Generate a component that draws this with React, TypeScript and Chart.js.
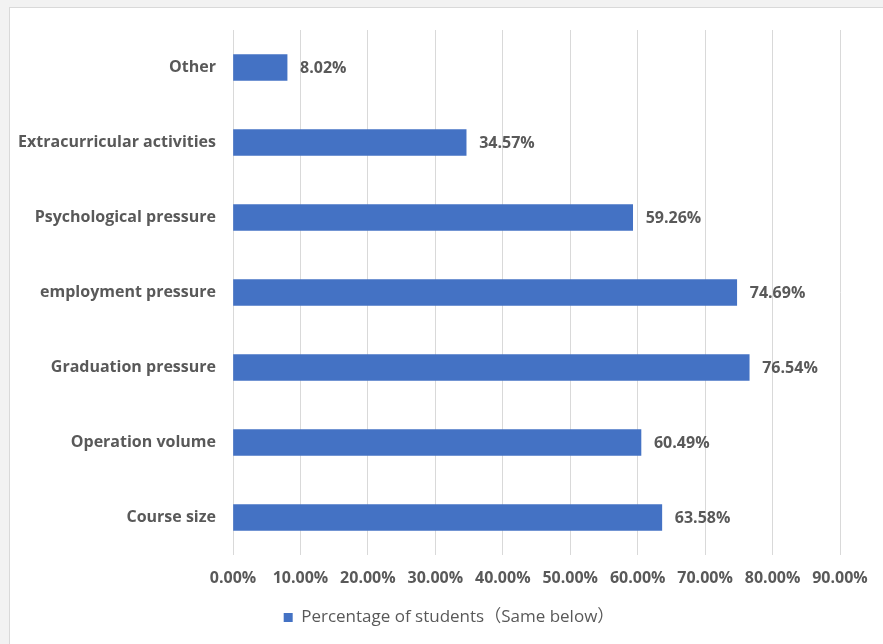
import React, { useEffect, useRef } from "react";
import { Chart, registerables } from "chart.js";

Chart.register(...registerables);

const categories = [
  "Other",
  "Extracurricular activities",
  "Psychological pressure",
  "employment pressure",
  "Graduation pressure",
  "Operation volume",
  "Course size",
];
const percentages = [8.02, 34.57, 59.26, 74.69, 76.54, 60.49, 63.58];
const seriesName = "Percentage of students（Same below）";
const axisMax = 90;
const axisStep = 10;

const FONT = "'Open Sans', 'Noto Sans CJK SC', sans-serif";
const GREY = "#595959";

const valueLabels = {
  id: "valueLabels",
  afterDatasetsDraw(chart: any) {
    const ctx = chart.ctx;
    const meta = chart.getDatasetMeta(0);
    ctx.save();
    ctx.font = `bold 16px ${FONT}`;
    ctx.fillStyle = GREY;
    ctx.textAlign = "left";
    ctx.textBaseline = "middle";
    meta.data.forEach((bar: any, i: number) => {
      const v = chart.data.datasets[0].data[i];
      ctx.fillText(v.toFixed(2) + "%", bar.x + 13, bar.y + 1);
    });
    ctx.restore();
  },
};

const shiftLegend = {
  id: "shiftLegend",
  afterLayout(chart: any) {
    if (chart.legend) {
      chart.legend.left += 58;
      if (chart.legend.adjustHitBoxes) chart.legend.adjustHitBoxes();
    }
  },
};

export default function App() {
  const ref = useRef<HTMLCanvasElement>(null);
  useEffect(() => {
    const chart = new Chart(ref.current!, {
      type: "bar",
      data: {
        labels: categories,
        datasets: [
          {
            label: seriesName,
            data: percentages,
            backgroundColor: "#4472c4",
            borderWidth: 0,
            barThickness: 26,
          },
        ],
      },
      options: {
        indexAxis: "y",
        animation: false,
        responsive: false,
        layout: { padding: { top: 30, right: 43, left: 0, bottom: 8 } },
        scales: {
          x: {
            min: 0,
            max: axisMax,
            ticks: {
              stepSize: axisStep,
              padding: 14,
              color: GREY,
              font: { family: FONT, size: 16, weight: "bold" },
              callback: (v: any) => Number(v).toFixed(2) + "%",
              maxRotation: 0,
              autoSkip: false,
            },
            grid: { color: "#d9d9d9", drawTicks: false, lineWidth: 1 },
            border: { display: false },
            afterFit: (s: any) => {
              s.height = 46;
            },
          },
          y: {
            ticks: {
              padding: 17,
              color: GREY,
              font: { family: FONT, size: 16, weight: "bold" },
            },
            grid: { display: false, drawTicks: false },
            border: { display: false },
            afterFit: (s: any) => {
              s.width = 233;
            },
          },
        },
        plugins: {
          legend: {
            position: "bottom",
            labels: {
              boxWidth: 9,
              boxHeight: 9,
              color: GREY,
              font: { family: FONT, size: 17 },
              padding: 8,
            },
          },
          tooltip: { enabled: false },
        },
      },
      plugins: [valueLabels, shiftLegend],
    });
    return () => chart.destroy();
  }, []);

  return (
    <div
      style={{
        position: "fixed",
        left: 0,
        top: 0,
        width: 883,
        height: 644,
        background: "#f2f2f2",
        overflow: "hidden",
      }}
    >
      <div
        style={{
          position: "absolute",
          left: 9,
          top: 7,
          width: 900,
          height: 700,
          background: "#ffffff",
          border: "1px solid #d9d9d9",
        }}
      />
      <canvas
        ref={ref}
        width={883}
        height={644}
        style={{ position: "absolute", left: 0, top: 0 }}
      />
    </div>
  );
}
